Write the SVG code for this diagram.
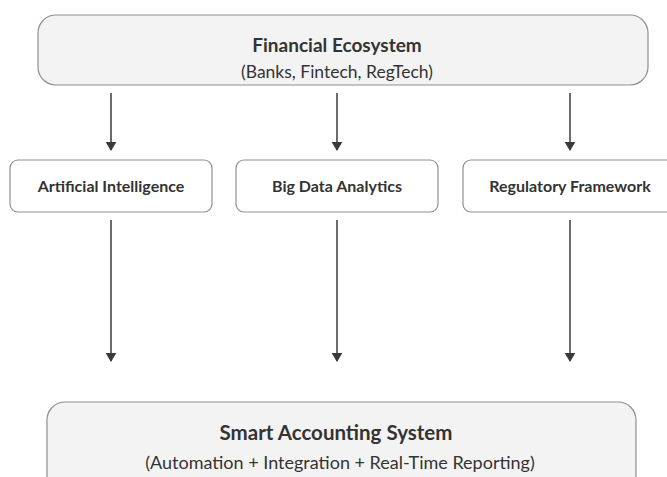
<svg xmlns="http://www.w3.org/2000/svg" width="667" height="477" viewBox="0 0 667 477">
  <defs>
    <marker id="arrow" viewBox="0 0 10 12" refX="9" refY="6" markerWidth="9" markerHeight="12" markerUnits="userSpaceOnUse" orient="auto">
      <path d="M0,0 L10,6 L0,12 z" transform="rotate(0)" fill="#3a3a3a"/>
    </marker>
    <style>
      .big { fill: #f3f3f3; stroke: #8f8f8f; stroke-width: 1.2; }
      .box { fill: #ffffff; stroke: #8f8f8f; stroke-width: 1.2; }
      .title { font-family: Lato, "Open Sans", sans-serif; font-weight: 700; fill: #333333; text-anchor: middle; }
      .sub { font-family: Lato, "Open Sans", sans-serif; font-weight: 400; fill: #333333; text-anchor: middle; }
      .label { font-family: Lato, "Open Sans", sans-serif; font-weight: 700; fill: #333333; text-anchor: middle; font-size: 16px; }
      .edge { stroke: #3a3a3a; stroke-width: 1.5; fill: none; marker-end: url(#arrow); }
    </style>
  </defs>
  <rect width="667" height="477" fill="#ffffff"/>

  <g id="financial-ecosystem">
    <rect class="big" x="38" y="15" width="610" height="70" rx="18"/>
    <text class="title" x="337" y="52" font-size="19">Financial Ecosystem</text>
    <text class="sub" x="337" y="78" font-size="17.5">(Banks, Fintech, RegTech)</text>
  </g>

  <g id="artificial-intelligence">
    <rect class="box" x="10" y="160" width="202" height="52" rx="8"/>
    <text class="label" x="111" y="192">Artificial Intelligence</text>
  </g>

  <g id="big-data-analytics">
    <rect class="box" x="236" y="160" width="202" height="52" rx="8"/>
    <text class="label" x="337" y="192">Big Data Analytics</text>
  </g>

  <g id="regulatory-framework">
    <rect class="box" x="463" y="160" width="230" height="52" rx="8"/>
    <text class="label" x="570" y="192">Regulatory Framework</text>
  </g>

  <g id="smart-accounting-system">
    <rect class="big" x="47" y="402" width="589" height="100" rx="18"/>
    <text class="title" x="336" y="440" font-size="20.5">Smart Accounting System</text>
    <text class="sub" x="340" y="469" font-size="18">(Automation + Integration + Real-Time  Reporting)</text>
  </g>

  <g id="connectors">
    <line class="edge" x1="111" y1="93" x2="111" y2="150"/>
    <line class="edge" x1="337" y1="93" x2="337" y2="150"/>
    <line class="edge" x1="570" y1="93" x2="570" y2="150"/>
    <line class="edge" x1="111" y1="220" x2="111" y2="361"/>
    <line class="edge" x1="337" y1="220" x2="337" y2="361"/>
    <line class="edge" x1="570" y1="220" x2="570" y2="361"/>
  </g>
</svg>
